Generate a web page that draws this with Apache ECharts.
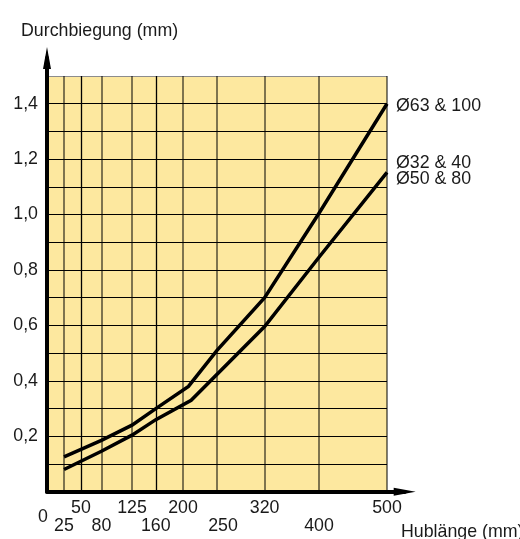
<!DOCTYPE html>
<html>
<head>
<meta charset="utf-8">
<script src="https://cdn.jsdelivr.net/npm/echarts@6/dist/echarts.min.js"></script>
<style>html,body{margin:0;padding:0;background:#fff}#c{width:520px;height:539px}</style>
</head>
<body>
<div id="c"></div>
<script>
// ---- data ----
const xZero = [0];
const xGridValues = [25, 50, 80, 125, 160, 200, 250, 320, 400, 500];
const xRowTop = [50, 125, 200, 320, 500];
const xRowBottom = [25, 80, 160, 250, 400];
const upperName = 'Ø63 & 100';
const upperX = [25, 80, 125, 160, 208, 250, 320, 400, 500];
const upperY = [0.126, 0.185, 0.24, 0.30, 0.38, 0.51, 0.70, 1.005, 1.40];
const lowerName = 'Ø32 & 40\nØ50 & 80';
const lowerX = [25, 80, 125, 160, 212, 320, 400, 500];
const lowerY = [0.08, 0.146, 0.204, 0.26, 0.33, 0.596, 0.846, 1.152];
const yTitle = 'Durchbiegung (mm)';
const xTitle = 'Hublänge (mm)';

// ---- chart ----
const FONT = '"Liberation Sans", Arial, Helvetica, sans-serif';
const TXT = '#1a1a1a';
const FS = 17.8;
const strongX = new Set([50, 160]);
const chart = echarts.init(document.getElementById('c'), null, {renderer: 'canvas'});

const zip = (xs, ys) => xs.map((x, i) => [x, ys[i]]);

const hColors = [];
for (let i = 0; i <= 15; i++) hColors.push(i === 15 ? '#8c8c8c' : '#000');

const rs = (lh, pad) => ({fontFamily: FONT, fontSize: FS, color: TXT, lineHeight: lh, padding: pad});

const labelAxis = (values, offset, formatter, rich) => ({
  gridIndex: 0, type: 'value', min: 0, max: 500, position: 'bottom', offset: offset,
  axisLine: {show: false}, axisTick: {show: false}, splitLine: {show: false},
  axisLabel: {
    customValues: values, margin: 7, showMinLabel: true, showMaxLabel: true, hideOverlap: false,
    fontFamily: FONT, fontSize: FS, color: TXT, formatter: formatter, rich: rich
  }
});

chart.setOption({
  animation: false,
  title: [
    {text: yTitle, left: 16, top: 17, textStyle: {fontFamily: FONT, fontSize: FS, fontWeight: 'normal', color: TXT}},
    {text: xTitle, left: 396, top: 518, textStyle: {fontFamily: FONT, fontSize: FS, fontWeight: 'normal', color: TXT}}
  ],
  grid: [
    {left: 47, top: 76, width: 340, height: 415.7, show: true, backgroundColor: '#FDE89F', borderWidth: 0, z: 0},
    {left: 47, top: 58, width: 357.7, height: 433.7, show: false}
  ],
  xAxis: [
    labelAxis(xRowTop, 0, v => '{a|' + v + '}', {a: rs(18, [0, 0, 0, 0])}),
    {
      gridIndex: 1, type: 'value', min: 0, max: 1,
      axisLine: {show: true, symbol: ['none', 'triangle'], symbolSize: [8, 22], lineStyle: {color: '#000', width: 4}},
      axisTick: {show: false}, axisLabel: {show: false}, splitLine: {show: false}, z: 10
    },
    labelAxis(xRowBottom, 18, v => (v === 250 ? '{c|' : '{a|') + v + '}',
      {a: rs(18, [0, 0, 0, 0]), c: rs(18, [0, 0, 0, 12])}),
    labelAxis(xZero, 9, v => '{z|' + v + '}', {z: rs(18, [0, 8, 0, 0])})
  ],
  yAxis: [
    {
      gridIndex: 0, type: 'value', min: 0, max: 1.5, interval: 0.1,
      axisLine: {show: false}, axisTick: {show: false},
      splitLine: {show: true, lineStyle: {color: hColors, width: 1}},
      axisLabel: {
        margin: 9, fontFamily: FONT, fontSize: FS, color: TXT,
        formatter: v => {
          const k = Math.round(v * 10);
          return (k > 0 && k % 2 === 0 && k <= 14) ? (k / 10).toFixed(1).replace('.', ',') : '';
        }
      }
    },
    {
      gridIndex: 1, type: 'value', min: 0, max: 1,
      axisLine: {show: true, symbol: ['none', 'triangle'], symbolSize: [8, 22], lineStyle: {color: '#000', width: 4}},
      axisTick: {show: false}, axisLabel: {show: false}, splitLine: {show: false}, z: 10
    }
  ],
  series: [
    {
      type: 'line', xAxisIndex: 0, yAxisIndex: 0, data: [], silent: true, z: 1,
      markLine: {
        silent: true, symbol: ['none', 'none'], label: {show: false}, animation: false,
        data: xGridValues.map(v => ({
          xAxis: v,
          lineStyle: strongX.has(v)
            ? {color: '#000', width: 1.3, type: 'solid'}
            : {color: 'rgba(0,0,0,0.5)', width: 2, type: 'solid'}
        }))
      }
    },
    {
      name: upperName, type: 'line', xAxisIndex: 0, yAxisIndex: 0, z: 5,
      data: zip(upperX, upperY), showSymbol: false, symbol: 'none',
      lineStyle: {color: '#000', width: 3.5, join: 'miter'},
      endLabel: {show: true, formatter: upperName, distance: 9, offset: [0, 2],
        fontFamily: FONT, fontSize: FS, color: TXT}
    },
    {
      name: lowerName, type: 'line', xAxisIndex: 0, yAxisIndex: 0, z: 5,
      data: zip(lowerX, lowerY), showSymbol: false, symbol: 'none',
      lineStyle: {color: '#000', width: 3.5, join: 'miter'},
      endLabel: {show: true, formatter: lowerName, distance: 9, offset: [0, -1],
        fontFamily: FONT, fontSize: FS, color: TXT, lineHeight: 16}
    }
  ]
});
</script>
</body>
</html>
